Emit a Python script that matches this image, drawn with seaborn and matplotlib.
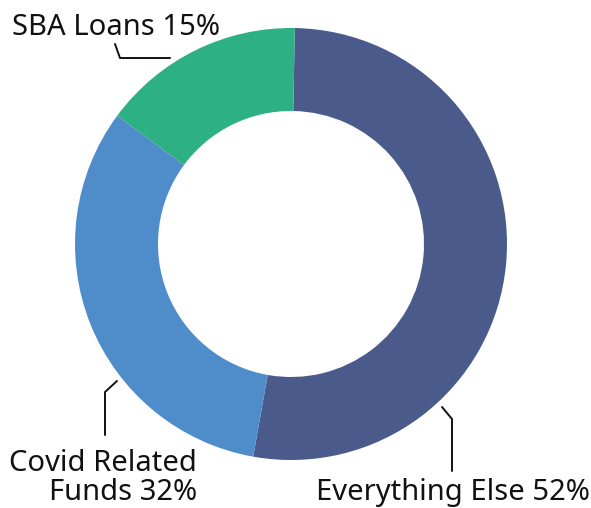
import matplotlib
matplotlib.use("Agg")
import matplotlib.pyplot as plt
import seaborn as sns

# 데이터
labels = ['Everything Else', 'Covid Related\nFunds', 'SBA Loans']
shares = [52, 32, 15]
colors = ['#4a5b8b', '#4f8cca', '#2db083']

sns.set_theme(style='white')
plt.rcParams['font.family'] = ['Noto Sans', 'DejaVu Sans']

W, H = 591, 508
fig = plt.figure(figsize=(W / 100, H / 100), dpi=100)
ax = fig.add_axes([0, 0, 1, 1])
ax.set_xlim(0, W)
ax.set_ylim(0, H)
ax.set_aspect('equal')
ax.axis('off')

# 픽셀 좌표(위에서 아래) -> 데이터 좌표
def py(y):
    return H - y

cx, cy, r_out, r_in = 291, 244, 216, 133
ax.pie(shares, colors=colors, startangle=89, counterclock=False,
       center=(cx, py(cy)), radius=r_out,
       wedgeprops=dict(width=r_out - r_in, linewidth=0))
ax.set_xlim(0, W)
ax.set_ylim(0, H)

txt = [f'{l} {v}%' for l, v in zip(labels, shares)]
fs = 21
ax.text(316, py(500), txt[0], fontsize=fs, ha='left', va='baseline', color='#111111')
ax.text(197, py(500), txt[1], fontsize=fs, ha='right', va='baseline',
        color='#111111', multialignment='right', linespacing=1.0)
ax.text(12, py(35), txt[2], fontsize=fs, ha='left', va='baseline', color='#111111')

lk = dict(color='#111111', lw=1.4)
ax.plot([442, 452, 452], [py(407), py(419), py(471)], **lk)
ax.plot([117, 105, 105], [py(381), py(392), py(435)], **lk)
ax.plot([170, 120, 115], [py(58), py(58), py(44)], **lk)

fig.savefig('out.png', dpi=100)
